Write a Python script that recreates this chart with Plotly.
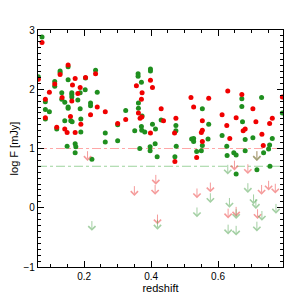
import plotly.graph_objects as go

# Detections (redshift, log F [mJy])
green_z = [0.074, 0.063, 0.084, 0.084, 0.084, 0.096, 0.112, 0.112, 0.118, 0.128, 0.128, 0.133, 0.133,
           0.142, 0.142, 0.149, 0.152, 0.152, 0.152, 0.152, 0.160, 0.164, 0.163, 0.163, 0.163, 0.173,
           0.175, 0.173, 0.181, 0.188, 0.188, 0.190, 0.190, 0.204, 0.203, 0.219, 0.219, 0.223, 0.234,
           0.239, 0.263, 0.263, 0.300, 0.300, 0.324, 0.351, 0.361, 0.361, 0.362, 0.362, 0.366, 0.371,
           0.373, 0.371, 0.372, 0.381, 0.398, 0.398, 0.397, 0.397, 0.404, 0.413, 0.412, 0.418, 0.430,
           0.474, 0.474, 0.475, 0.471, 0.521, 0.527, 0.527, 0.536, 0.553, 0.550, 0.553, 0.572, 0.570,
           0.612, 0.626, 0.627, 0.647, 0.654, 0.654, 0.671, 0.671, 0.673, 0.681, 0.681, 0.704, 0.716,
           0.730, 0.736, 0.754, 0.751, 0.755, 0.762, 0.792]
green_f = [2.88, 2.21, 1.79, 1.66, 1.50, 1.62, 2.13, 2.05, 1.33, 2.31, 2.28, 1.94, 1.83,
           1.78, 1.47, 1.04, 2.38, 2.16, 1.70, 1.68, 1.47, 1.45, 1.94, 1.91, 1.87, 1.08,
           1.03, 0.93, 1.82, 1.94, 1.67, 1.50, 1.28, 2.19, 1.99, 1.77, 1.72, 0.82, 2.32,
           1.95, 1.26, 1.11, 1.40, 1.13, 1.64, 1.30, 2.26, 2.22, 1.77, 1.68, 1.00, 2.12,
           1.55, 1.37, 1.31, 1.28, 2.34, 2.31, 1.03, 0.96, 1.41, 1.33, 1.08, 0.86, 1.48,
           1.39, 1.30, 1.04, 0.86, 1.16, 1.17, 1.12, 0.95, 1.67, 0.96, 1.05, 1.41, 1.16,
           1.22, 1.04, 0.88, 0.93, 0.89, 0.57, 1.84, 1.71, 1.45, 1.15, 0.96, 1.18, 0.64,
           1.86, 0.93, 1.06, 0.99, 0.70, 1.17, 1.60]

red_z = [0.074, 0.063, 0.084, 0.084, 0.096, 0.112, 0.118, 0.128, 0.134, 0.142, 0.149, 0.152, 0.159,
         0.163, 0.165, 0.173, 0.173, 0.181, 0.188, 0.190, 0.204, 0.219, 0.234, 0.239, 0.263, 0.300,
         0.324, 0.356, 0.362, 0.367, 0.372, 0.371, 0.373, 0.398, 0.404, 0.398, 0.430, 0.437, 0.474,
         0.470, 0.471, 0.519, 0.527, 0.536, 0.553, 0.553, 0.550, 0.553, 0.572, 0.612, 0.626, 0.629,
         0.635, 0.654, 0.671, 0.681, 0.675, 0.704, 0.713, 0.731, 0.735, 0.754, 0.762, 0.792]
red_f = [2.79, 2.17, 1.83, 1.52, 1.95, 2.09, 1.36, 2.25, 1.86, 1.33, 1.27, 2.41, 1.54,
         1.80, 2.07, 2.18, 1.27, 1.93, 2.03, 1.41, 2.20, 1.57, 2.26, 1.70, 1.62, 1.42,
         1.49, 2.06, 1.60, 1.51, 1.53, 1.83, 1.94, 2.15, 2.03, 1.26, 1.67, 1.47, 1.51,
         1.26, 0.78, 1.86, 1.70, 0.85, 1.47, 1.31, 1.27, 1.12, 1.85, 1.57, 1.39, 1.97,
         1.17, 1.52, 1.91, 1.33, 1.30, 1.67, 1.45, 1.24, 1.05, 1.42, 1.51, 1.87]

# Upper limits (redshift, log F limit)
red_lim_z = [0.210, 0.350, 0.414, 0.412, 0.419, 0.537, 0.577, 0.630, 0.654, 0.649, 0.689, 0.716,
             0.718, 0.730, 0.751, 0.771]
red_lim_f = [0.98, 0.39, 0.58, 0.41, -0.09, 0.35, 0.45, 0.01, 0.04, 0.82, 0.76, 0.98,
             0.00, 0.41, 0.48, 0.43]
green_lim_z = [0.223, 0.419, 0.537, 0.577, 0.629, 0.634, 0.654, 0.630, 0.654, 0.689, 0.706, 0.713,
               0.731, 0.716, 0.773, 0.716]
green_lim_f = [-0.20, -0.18, 0.03, 0.27, 0.75, 0.19, 0.00, -0.26, -0.28, 0.44, 0.25, 0.17,
               -0.03, -0.21, 0.09, 0.98]

arrow_len = 0.19
red_level = 1.0
green_level = 0.7

x_range = [0.062, 0.794]
y_range = [-1, 3]
x_ticks = [0.2, 0.4, 0.6]
x_ticklabels = ["0.2", "0.4", "0.6"]
y_ticks = [-1, 0, 1, 2, 3]
y_ticklabels = ["\u22121", "0", "1", "2", "3"]

RED = "#f00000"
GREEN = "#1f8f1f"
RED_LIM = "rgba(240,90,90,0.6)"
GREEN_LIM = "rgba(90,170,90,0.55)"
FONT = "Liberation Sans, Arial, sans-serif"

fig = go.Figure()

fig.add_trace(go.Scatter(x=[x_range[0], x_range[1]], y=[red_level, red_level], mode="lines",
                         line=dict(color="rgba(255,60,60,0.45)", width=1, dash="dashdot"),
                         hoverinfo="skip", showlegend=False))
fig.add_trace(go.Scatter(x=[x_range[0], x_range[1]], y=[green_level, green_level], mode="lines",
                         line=dict(color="rgba(60,170,60,0.5)", width=1, dash="dashdot"),
                         hoverinfo="skip", showlegend=False))

fig.add_trace(go.Scatter(x=green_z, y=green_f, mode="markers",
                         marker=dict(color=GREEN, size=5, line=dict(width=0)), showlegend=False))
fig.add_trace(go.Scatter(x=red_z, y=red_f, mode="markers",
                         marker=dict(color=RED, size=5, line=dict(width=0)), showlegend=False))

annotations = []
for zs, fs, col in [(red_lim_z, red_lim_f, RED_LIM), (green_lim_z, green_lim_f, GREEN_LIM)]:
    for z, f in zip(zs, fs):
        annotations.append(dict(x=z, y=f - arrow_len, ax=z, ay=f, xref="x", yref="y",
                                axref="x", ayref="y", text="", showarrow=True,
                                arrowhead=4, arrowsize=1.4, arrowwidth=1, arrowcolor=col))

axis_common = dict(showline=True, linecolor="black", linewidth=1.2, mirror="ticks",
                   ticks="inside", ticklen=6, tickwidth=1, tickcolor="black",
                   showgrid=False, zeroline=False, automargin=False,
                   tickfont=dict(family=FONT, size=10, color="black"))

# page body has an 8px default margin; figure sized to fit the 306px window
fig.update_layout(
    width=290, height=290,
    margin=dict(l=30, r=15, t=22, b=31),
    paper_bgcolor="white", plot_bgcolor="white",
    annotations=annotations,
    xaxis=dict(range=x_range, tickvals=x_ticks, ticktext=x_ticklabels,
               minor=dict(dtick=0.05, tick0=0, ticks="inside", ticklen=3, tickcolor="black"),
               title=dict(text="redshift", standoff=2, font=dict(family=FONT, size=11, color="black")),
               **axis_common),
    yaxis=dict(range=y_range, tickvals=y_ticks, ticktext=y_ticklabels,
               minor=dict(dtick=0.1, tick0=0, ticks="inside", ticklen=3, tickcolor="black"),
               title=dict(text="log F [mJy]", standoff=4, font=dict(family=FONT, size=11, color="black")),
               **axis_common),
    font=dict(family=FONT, color="black"),
)

fig.write_html("out.html")
